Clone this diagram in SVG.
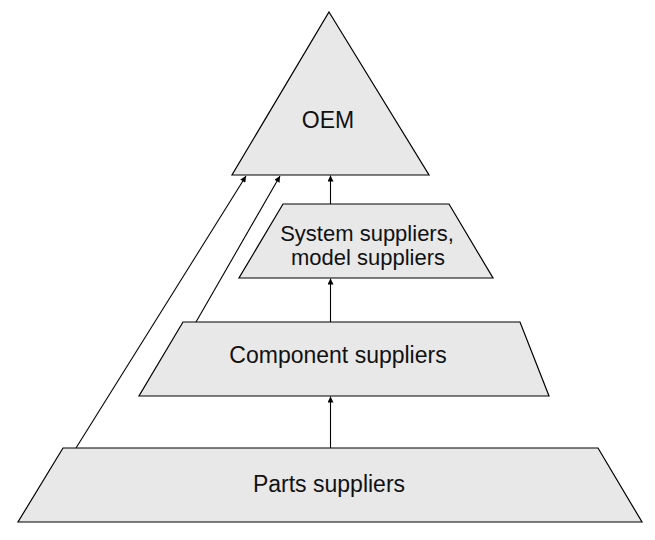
<svg xmlns="http://www.w3.org/2000/svg" width="655" height="540" viewBox="0 0 655 540">
<style>
.shape{fill:#e8e8e8;stroke:#000;stroke-width:1.2;stroke-linejoin:miter}
.lbl{font-family:"Liberation Sans",Arial,sans-serif;font-size:23px;fill:#111;text-anchor:middle}
.conn{stroke:#000;stroke-width:1.1;fill:none;marker-end:url(#ah)}
</style>
<defs>
<marker id="ah" viewBox="0 0 10 10" refX="10" refY="5" markerWidth="8" markerHeight="6" markerUnits="userSpaceOnUse" orient="auto">
<path d="M0,0 L10,5 L0,10 z" fill="#000"/>
</marker>
</defs>
<rect width="655" height="540" fill="#fff"/>
<g id="oem">
<polygon class="shape" points="329,12 429,175 232,175"/>
<text class="lbl" x="328" y="128">OEM</text>
</g>
<g id="system-suppliers">
<polygon class="shape" points="283,204 449,204 493,278 239,278"/>
<text class="lbl" x="367" y="241" style="font-size:22px">System suppliers,<tspan x="368" dy="24">model suppliers</tspan></text>
</g>
<g id="component-suppliers">
<polygon class="shape" points="183,322 520,322 549,396 139,396"/>
<text class="lbl" x="338" y="363">Component suppliers</text>
</g>
<g id="parts-suppliers">
<polygon class="shape" points="63,448 598,448 642,522 18,522"/>
<text class="lbl" x="329" y="492">Parts suppliers</text>
</g>
<g id="connectors">
<line class="conn" x1="330.5" y1="448" x2="330.5" y2="396.5"/>
<line class="conn" x1="330.5" y1="322" x2="330.5" y2="278.5"/>
<line class="conn" x1="330.5" y1="204" x2="330.5" y2="175.5"/>
<line class="conn" x1="76" y1="448" x2="246" y2="176"/>
<line class="conn" x1="196" y1="322" x2="280" y2="176"/>
</g>
</svg>
